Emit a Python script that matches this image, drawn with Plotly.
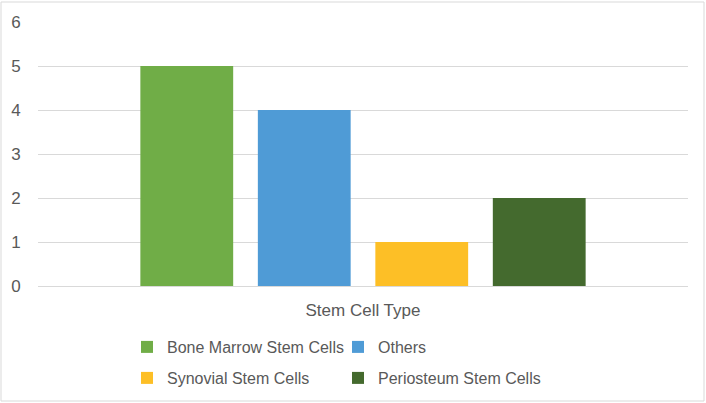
import plotly.graph_objects as go

categories = ["Stem Cell Type"]
series_names = ["Bone Marrow Stem Cells", "Others", "Synovial Stem Cells", "Periosteum Stem Cells"]
series_values = [[5], [4], [1], [2]]
series_colors = ["#70ad47", "#4f9bd6", "#fdbf26", "#446a2e"]
y_ticks = [0, 1, 2, 3, 4, 5, 6]

W, H = 706, 403
FONT = "Liberation Sans"
GREY = "#595959"

# legend slots: (legend id, left px of item text minus 40, centre y px)
legend_ids = ["legend", "legend2", "legend3", "legend4"]
legend_pos = [(127, 347), (338, 347), (127, 378), (338, 378)]

fig = go.Figure()
for name, vals, col, lg in zip(series_names, series_values, series_colors, legend_ids):
    fig.add_trace(go.Bar(x=categories, y=vals, name=name, marker_color=col,
                         marker_line_width=0, legend=lg))

leg_common = dict(orientation="h", xref="container", yref="container",
                  xanchor="left", yanchor="middle",
                  font=dict(family=FONT, size=16, color=GREY), bgcolor="rgba(0,0,0,0)",
                  itemclick=False, itemdoubleclick=False)
legends = {lid: dict(x=px / W, y=1 - py / H, **leg_common)
           for lid, (px, py) in zip(legend_ids, legend_pos)}

fig.update_layout(
    width=W, height=H,
    margin=dict(l=38, r=18, t=22, b=117, autoexpand=False),
    paper_bgcolor="white", plot_bgcolor="white",
    barmode="group", bargap=0.277, bargroupgap=0.21,
    font=dict(family=FONT, size=17, color=GREY),
    showlegend=True,
    xaxis=dict(showgrid=False, showline=True, linecolor="#d9d9d9", linewidth=1,
               ticks="outside", ticklen=9, tickcolor="rgba(0,0,0,0)", automargin=False,
               tickfont=dict(family=FONT, size=17, color=GREY), fixedrange=True),
    yaxis=dict(range=[0, 6], tickvals=y_ticks, showgrid=True, gridcolor="#d9d9d9",
               gridwidth=1, zeroline=False, showline=False, automargin=False,
               ticks="outside", ticklen=13, tickcolor="rgba(0,0,0,0)",
               tickfont=dict(family=FONT, size=17, color=GREY), fixedrange=True),
    shapes=[dict(type="rect", xref="paper", yref="paper",
                 x0=-37 / 650, x1=1 + 16 / 650, y0=-115 / 264, y1=1 + 20 / 264,
                 line=dict(color="#d9d9d9", width=1), fillcolor="rgba(0,0,0,0)", layer="below")],
    **legends,
)

fig.write_html("out.html",
               config={"displayModeBar": False},
               post_script="document.body.style.margin='0';document.body.style.overflow='hidden';")
